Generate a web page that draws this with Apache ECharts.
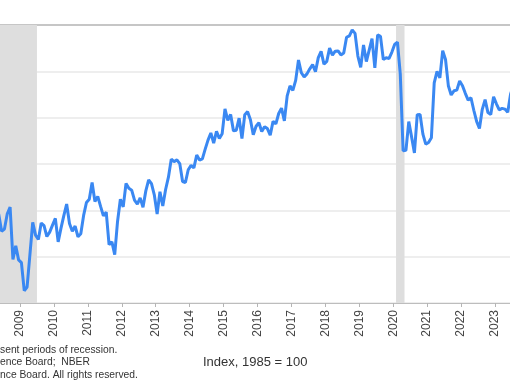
<!DOCTYPE html>
<html>
<head>
<meta charset="utf-8">
<script src="https://cdn.jsdelivr.net/npm/echarts@6/dist/echarts.min.js"></script>
<style>
html,body{margin:0;padding:0;background:#fff;}
#chart{width:510px;height:382px;}
</style>
</head>
<body>
<div id="chart"></div>
<script>
// Consumer Confidence Index (1985 = 100), monthly values
const cci2008 = [87.3, 76.4, 65.9, 62.8, 58.1, 51.0, 51.9, 58.5, 61.4, 38.8, 44.7, 38.6];
const cci2009 = [37.4, 25.3, 26.9, 40.8, 54.8, 49.3, 47.4, 54.5, 53.4, 48.7, 50.6, 53.6];
const cci2010 = [56.5, 46.4, 52.3, 57.7, 62.7, 54.3, 51.0, 53.2, 48.6, 49.9, 57.8, 63.4];
const cci2011 = [64.8, 72.0, 63.8, 66.0, 61.7, 57.6, 59.2, 45.2, 46.4, 40.9, 55.2, 64.8];
const cci2012 = [61.5, 71.6, 69.5, 68.7, 64.4, 62.7, 65.4, 61.3, 68.4, 73.1, 71.5, 66.7];
const cci2013 = [58.4, 68.0, 61.9, 69.0, 74.3, 82.1, 81.0, 81.8, 80.2, 72.4, 72.0, 77.5];
const cci2014 = [79.4, 78.3, 83.9, 81.7, 82.2, 86.4, 90.3, 93.4, 89.0, 94.1, 91.0, 93.1];
const cci2015 = [103.8, 98.8, 101.4, 94.3, 94.6, 99.8, 91.0, 101.3, 102.6, 99.1, 92.6, 96.3];
const cci2016 = [97.8, 94.0, 96.1, 95.3, 92.4, 98.4, 97.3, 101.8, 104.1, 98.6, 109.4, 113.7];
const cci2017 = [111.8, 116.1, 124.9, 119.4, 117.6, 118.9, 121.1, 122.9, 119.8, 125.9, 128.6, 123.1];
const cci2018 = [124.3, 130.0, 127.0, 128.7, 128.8, 127.1, 127.9, 134.7, 135.3, 137.9, 136.4, 126.6];
const cci2019 = [121.7, 131.4, 124.2, 129.2, 134.1, 121.5, 135.7, 135.1, 125.1, 125.9, 125.5, 128.2];
const cci2020 = [131.6, 132.6, 118.8, 85.7, 85.9, 98.3, 91.7, 84.8, 101.3, 101.4, 92.9, 88.6];
const cci2021 = [89.3, 91.3, 115.0, 120.0, 117.2, 128.9, 125.1, 113.8, 109.8, 111.6, 111.9, 115.8];
const cci2022 = [113.8, 110.5, 107.6, 108.6, 103.2, 98.4, 95.3, 103.6, 107.8, 102.2, 101.4, 109.0];
const cci2023 = [106.0, 103.4, 104.0, 103.7, 102.3, 110.1, 114.0, 106.1];
const firstYear = 2008;

// Recession periods (start, end) as decimal years
const recessionStarts = [2007 + 11/12, 2020 + 1/12];
const recessionEnds = [2009 + 6/12, 2020 + 4/12];

// Visible x range (decimal years) and year tick labels
const xMin = 2008.4106, xMax = 2023.4421;
const tickYears = [2009, 2010, 2011, 2012, 2013, 2014, 2015, 2016, 2017, 2018, 2019, 2020, 2021, 2022, 2023];
const yMin = 20, yMax = 140, yStep = 20;

const yearly = [cci2008, cci2009, cci2010, cci2011, cci2012, cci2013, cci2014, cci2015,
  cci2016, cci2017, cci2018, cci2019, cci2020, cci2021, cci2022, cci2023];
const lineData = [];
yearly.forEach((vals, yi) => {
  vals.forEach((v, m) => lineData.push([firstYear + yi + (m + 0.5) / 12, v]));
});

const chart = echarts.init(document.getElementById('chart'), null, {renderer: 'canvas'});
const font = '"Liberation Sans", Arial, sans-serif';
chart.setOption({
  animation: false,
  backgroundColor: '#ffffff',
  grid: {left: 0, right: 0, top: 25, bottom: 79, containLabel: false},
  xAxis: [{
    type: 'value', min: xMin, max: xMax,
    axisLine: {show: true, lineStyle: {color: '#bdbdbd', width: 1}},
    axisTick: {show: true, length: 4, customValues: tickYears, lineStyle: {color: '#b5b5b5'}},
    axisLabel: {rotate: 90, margin: 7, color: '#444', fontSize: 12, fontFamily: font,
      customValues: tickYears, formatter: v => String(Math.round(v))},
    splitLine: {show: false}
  }, {
    type: 'value', position: 'top', min: xMin, max: xMax,
    axisLine: {show: true, onZero: false, lineStyle: {color: '#c6c6c6', width: 2}},
    axisTick: {show: false}, axisLabel: {show: false}, splitLine: {show: false}
  }],
  yAxis: {
    type: 'value', min: yMin, max: yMax, interval: yStep,
    axisLine: {show: false}, axisTick: {show: false}, axisLabel: {show: false},
    splitLine: {show: true, lineStyle: {color: '#e9e9e9', width: 1.5}}
  },
  series: [{
    type: 'line', data: [], z: 1, silent: true,
    markArea: {
      silent: true,
      itemStyle: {color: '#dedede'},
      data: recessionStarts.map((s, i) => [{xAxis: Math.max(s, xMin)}, {xAxis: recessionEnds[i]}])
    }
  }, {
    type: 'line', data: lineData, z: 3, showSymbol: false, smooth: false,
    lineStyle: {color: '#3a88f2', width: 3},
    itemStyle: {color: '#3a88f2'}
  }],
  graphic: [
    {type: 'text', left: 0, top: 345, style: {text: 'sent periods of recession.', font: '10.3px "Liberation Sans"', fill: '#333'}},
    {type: 'text', left: 0, top: 357.5, style: {text: 'ence Board;  NBER', font: '10.3px "Liberation Sans"', fill: '#333'}},
    {type: 'text', left: 0, top: 370, style: {text: 'nce Board. All rights reserved.', font: '10.3px "Liberation Sans"', fill: '#333'}},
    {type: 'text', left: 203, top: 356, style: {text: 'Index, 1985 = 100', font: '13px "Liberation Sans"', fill: '#333'}}
  ]
});
</script>
</body>
</html>
